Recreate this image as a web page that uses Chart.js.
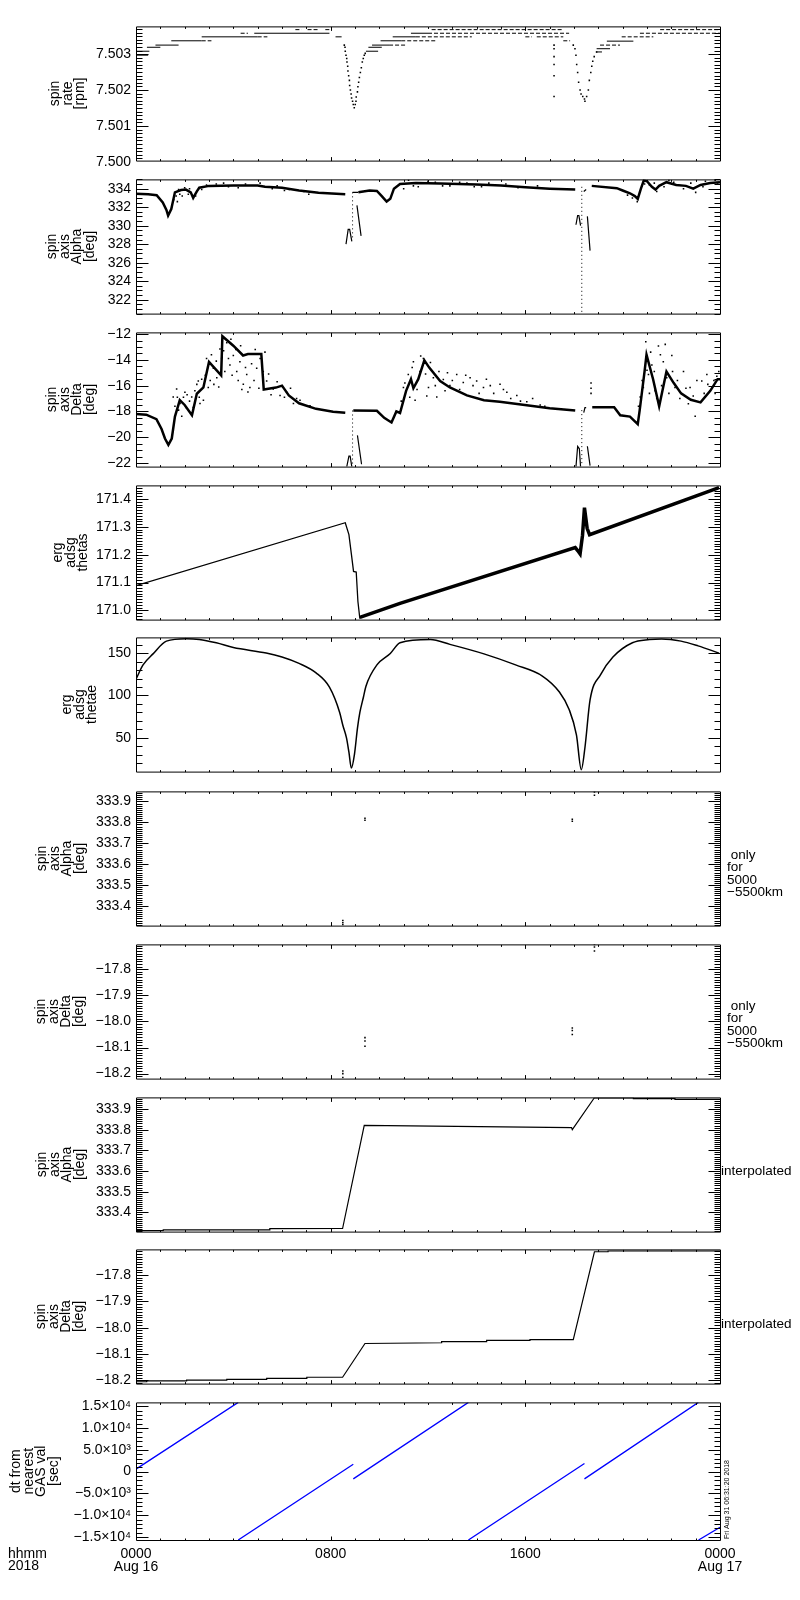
<!DOCTYPE html>
<html>
<head>
<meta charset="utf-8">
<script src="https://cdn.jsdelivr.net/npm/chart.js@4.4.1/dist/chart.umd.min.js"></script>
<style>
  html, body { margin: 0; padding: 0; background: #fff; }
  #wrap { position: relative; width: 800px; height: 1600px; }
  #wrap canvas { position: absolute; left: 0; }
</style>
</head>
<body>
<div id="wrap"></div>
<script>
// time axis: hours after 2018-08-16 0000 UT
const hourTicks = [0, 8, 16, 24]
const hourLabels = [["0000", "Aug 16"], ["0800"], ["1600"], ["0000", "Aug 17"]]

// panel 1: spin rate [rpm], quantised rows [from, to, value]
const rateSolid = [[0, 0.55, 7.50308], [0, 0.5, 7.50297], [0.45, 1.0, 7.50319], [0.8, 1.75, 7.50325],
  [1.45, 2.7, 7.50337], [2.7, 5.0, 7.50348], [4.86, 7.95, 7.50358], [8.2, 8.45, 7.50348],
  [9.45, 9.95, 7.50308], [9.55, 10.1, 7.50319], [9.7, 10.4, 7.50325], [10.05, 10.9, 7.50337],
  [10.55, 11.5, 7.50348], [11.3, 12.0, 7.50358], [18.9, 19.15, 7.50306], [18.93, 19.48, 7.50315],
  [19.35, 20.44, 7.50336]]
const rateDashed = [[2.7, 3.1, 7.50337], [5.0, 5.4, 7.50348], [4.3, 4.6, 7.50358], [6.55, 6.8, 7.50368],
  [7.05, 7.53, 7.50368], [7.78, 8.0, 7.50368], [10.4, 11.1, 7.50325], [10.9, 12.3, 7.50337],
  [11.5, 13.8, 7.50348], [12.0, 17.8, 7.50358], [12.15, 17.56, 7.50368], [16.0, 16.27, 7.50348],
  [16.47, 17.56, 7.50348], [17.56, 17.84, 7.50337], [19.07, 19.89, 7.50325], [19.96, 21.26, 7.50348],
  [20.71, 24, 7.50358], [21.54, 24, 7.50368]]
const rateDip1 = [[8.56, 7.50325], [8.59, 7.50319], [8.6, 7.50308], [8.63, 7.50297], [8.66, 7.50288],
  [8.67, 7.50278], [8.7, 7.50266], [8.71, 7.50253], [8.74, 7.5024], [8.77, 7.50227], [8.78, 7.50213],
  [8.81, 7.502], [8.84, 7.50189], [8.86, 7.50178], [8.9, 7.50169], [8.93, 7.5016], [8.97, 7.50151],
  [9.01, 7.5016], [9.04, 7.50169], [9.05, 7.50181], [9.1, 7.50195], [9.12, 7.50209], [9.15, 7.50222],
  [9.18, 7.50235], [9.22, 7.50249], [9.26, 7.50262], [9.3, 7.50278], [9.34, 7.50288], [9.38, 7.50297],
  [9.42, 7.50302]]
const rateStray = [[17.18, 7.50325], [17.18, 7.50315], [17.18, 7.50293], [17.18, 7.50271],
  [17.18, 7.5024], [17.18, 7.50182]]
const rateDip2 = [[17.97, 7.50325], [18.04, 7.50315], [18.08, 7.50297], [18.11, 7.50271], [18.15, 7.50249],
  [18.19, 7.50222], [18.25, 7.502], [18.29, 7.50189], [18.36, 7.50182], [18.43, 7.50175], [18.45, 7.50169],
  [18.52, 7.50182], [18.59, 7.502], [18.63, 7.50227], [18.69, 7.50249], [18.73, 7.50266], [18.77, 7.5028],
  [18.83, 7.50293], [18.93, 7.50306]]

// panel 2: spin axis alpha [deg]
const alphaMain = [[0, 333.45], [0.5, 333.4], [0.85, 333.3], [1.1, 332.5], [1.25, 331.7], [1.32, 331.1],
  [1.45, 331.8], [1.6, 333.6], [1.85, 333.85], [2.05, 333.9], [2.25, 333.6], [2.35, 333.0], [2.5, 333.7],
  [2.6, 334.1], [3.0, 334.3], [4.0, 334.35], [5.0, 334.35], [5.3, 334.2], [6.0, 334.1], [6.7, 333.8],
  [7.5, 333.55], [8.6, 333.4], null,
  [9.14, 333.6], [9.6, 333.8], [9.9, 333.75], [10.1, 333.2], [10.3, 332.6], [10.45, 332.9], [10.6, 334.0],
  [10.85, 334.5], [11.5, 334.6], [12.5, 334.55], [14.0, 334.45], [15.0, 334.35], [16.0, 334.15],
  [17.0, 334.0], [18.05, 333.9], null,
  [18.73, 334.3], [19.76, 334.05], [20.0, 333.8], [20.3, 333.5], [20.5, 333.2], [20.62, 332.9],
  [20.75, 334.0], [20.87, 334.9], [21.0, 334.8], [21.2, 334.2], [21.35, 333.9], [21.5, 334.3],
  [21.8, 334.7], [22.2, 334.4], [22.6, 334.3], [22.9, 334.0], [23.2, 334.4], [23.6, 334.6], [24, 334.7]]
const alphaGlitch = [[8.63, 328.0], [8.72, 329.6], [8.78, 329.6], [8.87, 328.3], null,
  [8.9, 333.6], [9.14, 333.6], null, [9.08, 332.2], [9.25, 328.9], null,
  [18.08, 330.1], [18.15, 331.1], [18.2, 331.1], [18.27, 330.0], null,
  [18.55, 331.0], [18.66, 327.3], null, [18.4, 333.7], [18.5, 333.9]]
const alphaDotted = [[8.9, 333.6], [8.9, 328.6], null, [18.32, 334.2], [18.32, 320.5]]
const alphaScatter = [[1.55, 332.8], [1.65, 333.2], [1.7, 332.6], [1.8, 333.4], [1.9, 333.2], [2.0, 334.1],
  [2.15, 333.4], [2.3, 333.3], [2.45, 333.2], [2.7, 333.9], [2.9, 334.4], [3.3, 334.5], [3.8, 334.2],
  [4.5, 334.5], [5.6, 334.0], [5.8, 334.3], [6.3, 333.9], [6.9, 333.7], [11.0, 334.0], [11.2, 334.9],
  [11.6, 334.2], [12.0, 334.8], [12.6, 334.3], [13.3, 334.7], [13.9, 334.2], [14.5, 334.6], [20.4, 333.0],
  [20.6, 332.6], [20.8, 334.3], [21.1, 334.4], [21.4, 333.7], [21.9, 334.9], [22.5, 334.0], [23.0, 333.6],
  [23.4, 334.8], [23.8, 334.9], [1.75, 333.9], [2.2, 334.0], [3.6, 334.6], [4.2, 334.1], [5.1, 334.6],
  [6.1, 333.8], [7.1, 333.4], [11.4, 334.3], [12.3, 334.7], [12.9, 334.3], [13.6, 334.6], [14.2, 334.2],
  [15.2, 334.5], [15.7, 334.1], [16.5, 334.3], [20.2, 333.3], [20.9, 334.5], [21.3, 334.6], [21.7, 334.2],
  [22.1, 334.7], [22.8, 334.6], [23.3, 334.2], [23.9, 334.5]]

// panel 3: spin axis delta [deg]
const deltaMain = [[0, -18.2], [0.42, -18.25], [0.84, -18.6], [1.05, -19.36], [1.19, -20.1], [1.33, -20.6],
  [1.47, -20.1], [1.6, -18.4], [1.8, -17.13], [2.0, -17.5], [2.3, -18.3], [2.5, -16.63], [2.77, -16.14],
  [3.0, -14.16], [3.5, -15.2], [3.55, -12.17], [4.0, -12.9], [4.4, -13.66], [4.6, -13.55], [5.15, -13.55],
  [5.25, -16.3], [5.75, -16.15], [6.0, -16.0], [6.28, -16.76], [6.7, -17.37], [7.4, -17.8], [8.1, -18.02],
  [8.6, -18.1], null,
  [8.93, -17.93], [9.9, -17.95], [10.2, -18.5], [10.5, -18.86], [10.7, -18.0], [10.85, -18.12],
  [11.1, -16.4], [11.3, -15.5], [11.4, -16.2], [11.6, -15.5], [11.85, -14.03], [12.05, -14.6],
  [12.5, -15.64], [12.9, -16.14], [13.6, -16.76], [14.3, -17.13], [14.95, -17.25], [15.98, -17.5],
  [17.0, -17.75], [18.05, -17.93], null,
  [18.75, -17.67], [19.65, -17.67], [19.9, -18.3], [20.3, -18.4], [20.62, -18.99], [20.7, -17.9],
  [20.9, -14.9], [20.98, -13.6], [21.25, -15.5], [21.5, -17.6], [21.8, -14.9], [22.1, -15.8],
  [22.4, -16.6], [22.8, -17.1], [23.2, -17.3], [23.6, -16.4], [23.9, -15.5], [24, -15.5]]
const deltaGlitch = [[8.66, -22.3], [8.75, -21.47], [8.8, -21.47], [8.87, -22.3], null,
  [9.1, -19.86], [9.27, -22.1], null,
  [18.08, -22.3], [18.15, -20.72], [18.22, -20.9], [18.27, -22.3], null,
  [18.55, -20.7], [18.66, -22.2], null, [18.4, -18.1], [18.45, -17.7], [18.5, -17.7]]
const deltaDotted = [[8.9, -17.93], [8.9, -22.2], null, [18.32, -17.9], [18.32, -22.2]]
const deltaCloud = [[1.53, -16.88], [1.67, -16.26], [1.81, -17.38], [1.88, -18.37], [2.01, -16.51],
  [2.08, -17.75], [2.29, -16.88], [2.42, -16.39], [2.56, -15.64], [2.63, -17.38], [2.77, -17.13],
  [2.9, -13.9], [2.97, -16.14], [3.18, -14.65], [3.32, -15.39], [3.45, -13.16], [3.52, -13.9],
  [3.73, -12.67], [3.86, -14.4], [4.0, -13.66], [4.14, -14.9], [4.27, -14.15], [4.41, -15.89],
  [4.55, -15.14], [4.68, -16.14], [4.96, -14.65], [5.1, -13.9], [5.23, -14.9], [5.37, -15.64],
  [5.64, -16.26], [5.92, -16.76], [6.19, -16.51], [6.47, -17.38], [6.74, -17.13], [7.15, -17.57],
  [1.6, -17.6], [1.7, -16.9], [1.75, -17.9], [1.95, -16.9], [2.1, -16.7], [2.2, -17.2], [2.35, -17.7],
  [2.5, -15.9], [2.6, -16.9], [2.7, -15.5], [2.85, -15.2], [2.95, -14.6], [3.05, -15.6], [3.1, -13.6],
  [3.2, -15.9], [3.3, -14.1], [3.4, -16.1], [3.6, -13.3], [3.65, -14.9], [3.8, -13.9], [3.9, -12.4],
  [3.95, -15.2], [4.1, -13.2], [4.2, -15.6], [4.3, -12.9], [4.35, -16.3], [4.5, -14.6], [4.6, -16.5],
  [4.75, -14.3], [4.85, -15.6], [4.9, -13.2], [5.05, -16.2], [5.3, -13.4], [5.45, -15.1], [5.55, -16.7],
  [5.8, -15.7], [6.1, -16.9], [6.35, -16.2], [6.6, -17.0], [6.9, -17.5],
  [10.99, -16.14], [11.19, -15.14], [11.4, -14.15], [11.47, -17.13], [11.67, -14.9], [11.81, -13.9],
  [12.02, -16.14], [12.22, -15.39], [12.36, -16.88], [12.63, -15.52], [12.9, -16.0], [13.18, -15.14],
  [13.45, -15.76], [13.73, -15.39], [14.0, -15.64], [14.28, -16.14], [14.56, -16.0], [14.96, -15.89],
  [15.24, -16.51], [15.65, -16.76], [16.06, -17.25], [16.61, -17.5],
  [10.9, -17.2], [11.05, -15.8], [11.25, -16.9], [11.35, -14.6], [11.55, -16.3], [11.7, -13.7],
  [11.9, -15.1], [11.95, -16.8], [12.1, -14.2], [12.3, -16.0], [12.45, -14.9], [12.7, -16.4],
  [12.8, -15.0], [13.0, -15.6], [13.3, -16.3], [13.55, -15.2], [13.85, -16.0], [14.1, -16.6],
  [14.4, -15.5], [14.7, -16.6], [15.1, -16.3], [15.4, -17.0], [15.8, -17.2], [16.3, -17.0], [16.8, -17.6],
  [18.7, -15.8], [18.7, -16.2], [18.7, -16.6],
  [20.72, -16.88], [20.85, -16.14], [20.99, -13.66], [21.06, -15.14], [21.2, -14.4], [21.33, -16.39],
  [21.47, -12.92], [21.67, -14.15], [21.81, -15.39], [22.02, -13.66], [22.15, -16.14], [22.5, -14.9],
  [22.77, -16.14], [22.98, -18.37], [23.25, -15.64], [23.46, -15.14], [23.67, -16.14], [23.87, -15.27],
  [20.65, -17.6], [20.8, -15.6], [20.95, -12.6], [21.0, -14.8], [21.1, -16.6], [21.15, -13.4],
  [21.3, -14.9], [21.4, -17.0], [21.55, -13.6], [21.6, -16.0], [21.75, -12.8], [21.9, -16.6],
  [22.05, -14.9], [22.25, -15.6], [22.35, -17.0], [22.6, -16.2], [22.7, -17.4], [22.9, -16.8],
  [23.05, -15.6], [23.35, -16.6], [23.5, -15.9], [23.75, -15.6], [23.95, -14.9], [23.8, -16.6]]

// panel 4: erg adsg thetas
const thetasThin = [[0, 171.089], [8.6, 171.315], [8.75, 171.272], [8.85, 171.203], [8.94, 171.14],
  [9.05, 171.138], [9.12, 171.032], [9.2, 170.97]]
const thetasBand = [[9.2, 170.975], [10.85, 171.025], [18.05, 171.226], [18.15, 171.215], [18.25, 171.203],
  [18.35, 171.27], [18.43, 171.369], [18.54, 171.295], [18.64, 171.272], [23.96, 171.441]]

// panel 5: erg adsg thetae
const thetae = [[0, 119.2], [0.29, 136], [0.7, 149], [1.25, 164], [2.07, 166.9], [2.6, 166], [3.3, 162],
  [4.0, 156.5], [5.35, 150], [6.0, 145.3], [6.7, 137.8], [7.4, 126.6], [7.95, 109.8], [8.37, 80],
  [8.5, 64.9], [8.65, 50], [8.75, 33.2], [8.85, 14.5], [8.98, 31.3], [9.1, 61.2], [9.2, 80], [9.35, 98.5],
  [9.45, 111], [9.9, 136], [10.45, 149.4],
  [10.85, 162.1], [12.1, 165.8], [12.9, 160.2], [14.3, 149], [15.6, 136], [16.7, 122.9], [17.4, 104.1],
  [17.8, 83.6], [18.1, 53.7], [18.3, 12.7], [18.45, 38.8], [18.66, 94.8], [19.1, 124.8], [19.6, 145.3],
  [20.4, 162.1], [21.1, 165.8], [21.6, 166.6], [22.4, 164], [23.1, 158.4], [23.96, 149.9]]

// panels 6-7: values only for 5000-5500 km
const alphaOnly = [[8.5, 333.31], [8.5, 333.32], [8.5, 333.33], [9.41, 333.81], [9.41, 333.82],
  [17.93, 333.805], [17.93, 333.815], [18.84, 333.93], [18.84, 333.945]]
const deltaOnly = [[8.5, -18.19], [8.5, -18.2], [8.5, -18.215], [9.41, -18.062], [9.41, -18.075],
  [9.41, -18.095], [17.93, -18.025], [17.93, -18.035], [17.93, -18.05], [18.84, -17.705],
  [18.84, -17.715], [18.84, -17.73]]

// panels 8-9: interpolated
const alphaInterp = [[0, 333.312], [1.12, 333.312], [1.12, 333.315], [5.5, 333.315], [5.5, 333.321],
  [8.49, 333.322], [9.38, 333.821], [17.9, 333.81], [17.93, 333.8], [18.83, 333.953], [20.44, 333.953],
  [20.44, 333.95], [22.15, 333.95], [22.15, 333.946], [24, 333.946]]
const deltaInterp = [[0, -18.205], [0.44, -18.205], [0.44, -18.202], [2.08, -18.202], [2.08, -18.199],
  [3.73, -18.199], [3.73, -18.196], [5.37, -18.196], [5.37, -18.192], [7.02, -18.192], [7.02, -18.188],
  [8.49, -18.188], [9.41, -18.06], [12.56, -18.057], [12.56, -18.053], [14.41, -18.053], [14.41, -18.048],
  [16.19, -18.048], [16.19, -18.045], [17.97, -18.045], [18.84, -17.712], [19.4, -17.712],
  [19.4, -17.709], [24, -17.709]]

// panel 10: dt from nearest GAS value [sec]
const dtLines = [[0, 586], [4.2, 15900], null, [4.2, -15700], [8.93, 1710], null,
  [8.93, -1670], [13.66, 15900], null, [13.66, -15700], [18.43, 1870], null,
  [18.43, -1670], [23.11, 15900], null, [23.12, -15700], [24, -12770]]
const dtTicks = [-15000, -10000, -5000, 0, 5000, 10000, 15000]
const dtLabels = ["−1.5×10⁴", "−1.0×10⁴", "−5.0×10³", "0", "5.0×10³", "1.0×10⁴", "1.5×10⁴"]

// ---------------------------------------------------------------
const FONT = "'Liberation Sans', Arial, sans-serif"
Chart.defaults.font.family = FONT
Chart.defaults.color = "#000"
const TOPS = [23, 176, 329, 482, 634, 788, 941, 1094, 1246, 1399]
const PH = 141

function path(arr) {
  const out = []
  let lastX = 0
  arr.forEach(p => {
    if (p) { out.push({ x: p[0], y: p[1] }); lastX = p[0] }
    else out.push({ x: lastX, y: null })
  })
  return out
}
function rows(list) {
  const a = []
  list.forEach(([t0, t1, v]) => a.push([t0, v], [t1, v], null))
  return a
}
function line(arr, w, color, dash) {
  return { data: path(arr), borderColor: color || "#000", borderWidth: w, borderDash: dash || [],
    pointRadius: 0, spanGaps: false, tension: 0, fill: false }
}
function dots(arr, r) {
  return { data: path(arr), showLine: false, pointRadius: r, pointStyle: "rect", pointBorderWidth: 0,
    pointBackgroundColor: "#000", borderColor: "#000" }
}
const range = (a, b, s) => { const r = []; for (let v = a; v <= b + 1e-9; v += s) r.push(+v.toFixed(6)); return r }
const minus = s => s.replace("-", "−")

const onlyText = [" only", "for", "5000", "−5500km"]
const smoothThetae = Object.assign(line(thetae, 1.5), { cubicInterpolationMode: "monotone" })

const panels = [
  { title: ["spin", "rate", "[rpm]"], pad: 49, min: 7.50004, max: 7.50377, minor: 0.0001,
    ticks: [7.500, 7.501, 7.502, 7.503], fmt: v => v.toFixed(3),
    sets: [line(rows(rateSolid), 1), line(rows(rateDashed), 1, null, [4, 2]),
      dots(rateDip1, 1.1), dots(rateDip2, 1.1), dots(rateStray, 1.1)] },
  { title: ["spin", "axis", "Alpha", "[deg]"], pad: 46, min: 320.5, max: 335.0, minor: 0.5,
    ticks: range(322, 334, 2), fmt: v => String(v),
    sets: [line(alphaMain, 2.5), line(alphaGlitch, 1.2), line(alphaDotted, 1, null, [1, 3]), dots(alphaScatter, 1.1)] },
  { title: ["spin", "axis", "Delta", "[deg]"], pad: 46, min: -22.28, max: -11.87, minor: 0.5,
    ticks: range(-22, -12, 2), fmt: v => minus(String(v)),
    sets: [line(deltaMain, 2.5), line(deltaGlitch, 1.2), line(deltaDotted, 1, null, [1, 3]), dots(deltaCloud, 1.1)] },
  { title: ["erg", "adsg", "thetas"], pad: 52, min: 170.967, max: 171.449, minor: 0.01,
    ticks: range(171.0, 171.4, 0.1), fmt: v => v.toFixed(1),
    sets: [line(thetasThin, 1.3), line(thetasBand, 3.5)] },
  { title: ["erg", "adsg", "thetae"], pad: 61, min: 10.4, max: 168.4, minor: 10,
    ticks: [50, 100, 150], fmt: v => String(v),
    sets: [smoothThetae] },
  { title: ["spin", "axis", "Alpha", "[deg]"], pad: 36, min: 333.306, max: 333.948, minor: 0.01,
    ticks: range(333.4, 333.9, 0.1), fmt: v => v.toFixed(1),
    sets: [dots(alphaOnly, 1.1)], side: onlyText, sideY: 67 },
  { title: ["spin", "axis", "Delta", "[deg]"], pad: 35, min: -18.219, max: -17.705, minor: 0.01,
    ticks: range(-18.2, -17.8, 0.1), fmt: v => minus(v.toFixed(1)),
    sets: [dots(deltaOnly, 1.1)], side: onlyText, sideY: 65 },
  { title: ["spin", "axis", "Alpha", "[deg]"], pad: 36, min: 333.307, max: 333.956, minor: 0.01,
    ticks: range(333.4, 333.9, 0.1), fmt: v => v.toFixed(1),
    sets: [line(alphaInterp, 1.2)], side: ["interpolated"], sideY: 77, sideX: 721 },
  { title: ["spin", "axis", "Delta", "[deg]"], pad: 35, min: -18.212, max: -17.703, minor: 0.01,
    ticks: range(-18.2, -17.8, 0.1), fmt: v => minus(v.toFixed(1)),
    sets: [line(deltaInterp, 1.2)], side: ["interpolated"], sideY: 78, sideX: 721 },
  { title: ["dt from", "nearest", "GAS val", "[sec]"], pad: 10, min: -15700, max: 15900, minor: 1000,
    ticks: dtTicks, fmt: (v, i) => dtLabels[i],
    sets: [line(dtLines, 1.3, "#0000ff")] }
]

// frame with inward IDL-style ticks on all four sides
const framePlugin = {
  id: "frame",
  afterDatasetsDraw(chart, args, o) {
    const { ctx, chartArea: a, scales: { x, y } } = chart
    const L = a.left + 0.5, R = a.right + 0.5, T = a.top + 0.5, B = a.bottom + 0.5
    ctx.save()
    ctx.strokeStyle = "#000"
    ctx.lineWidth = 1
    ctx.beginPath()
    ctx.rect(L, T, R - L, B - T)
    const yTick = (v, len) => {
      if (v < y.min || v > y.max) return
      const py = Math.round(y.getPixelForValue(v)) + 0.5
      ctx.moveTo(L, py); ctx.lineTo(L + len, py)
      ctx.moveTo(R, py); ctx.lineTo(R - len, py)
    }
    const n0 = Math.ceil(y.min / o.minor - 1e-6), n1 = Math.floor(y.max / o.minor + 1e-6)
    for (let n = n0; n <= n1; n++) yTick(n * o.minor, 6)
    y.ticks.forEach(t => yTick(t.value, 12))
    for (let h = 1; h < 24; h++) {
      const px = Math.round(x.getPixelForValue(h)) + 0.5, len = h % 8 ? 2 : 4
      ctx.moveTo(px, T); ctx.lineTo(px, T + len)
      ctx.moveTo(px, B); ctx.lineTo(px, B - len)
    }
    ctx.stroke()
    ctx.restore()
  }
}

// free text: right-hand remarks, bottom-left labels, plot stamp
const notesPlugin = {
  id: "notes",
  afterDraw(chart, args, o) {
    const ctx = chart.ctx
    ctx.save()
    ctx.fillStyle = "#000"
    ctx.textBaseline = "middle"
    ctx.textAlign = "left"
    ;(o.items || []).forEach(n => {
      ctx.font = (n.size || 14) + "px " + FONT
      ctx.save()
      ctx.translate(n.x, n.y)
      if (n.rot) ctx.rotate(n.rot)
      ctx.fillText(n.text, 0, 0)
      ctx.restore()
    })
    ctx.restore()
  }
}

const wrap = document.getElementById("wrap")
panels.forEach((p, i) => {
  const last = i === panels.length - 1
  const cv = document.createElement("canvas")
  const h = PH + (last ? 70 : 20)
  cv.width = 800
  cv.height = h
  cv.style.top = (TOPS[i] - 10) + "px"
  wrap.appendChild(cv)

  const items = []
  if (p.side) p.side.forEach((s, k) => items.push({ text: s, x: p.sideX || 727, y: 10 + p.sideY + k * 12.5, size: 13.5 }))
  if (last) {
    items.push({ text: "hhmm", x: 8, y: 10 + PH + 14 })
    items.push({ text: "2018", x: 8, y: 10 + PH + 26 })
    items.push({ text: "Fri Aug 31 06:31:20 2018", x: 727, y: 10 + PH - 1, size: 7, rot: -Math.PI / 2 })
  }

  new Chart(cv, {
    type: "line",
    data: { datasets: p.sets },
    plugins: [framePlugin, notesPlugin],
    options: {
      responsive: false,
      animation: false,
      events: [],
      layout: { padding: { left: 0, right: 80, top: 10, bottom: last ? 0 : 10 } },
      plugins: {
        legend: { display: false },
        tooltip: { enabled: false },
        frame: { minor: p.minor },
        notes: { items }
      },
      scales: {
        x: {
          type: "linear", min: 0, max: 24,
          afterBuildTicks: s => { s.ticks = hourTicks.map(v => ({ value: v })) },
          afterFit: s => { s.height = last ? 60 : 0; s.paddingLeft = 0; s.paddingRight = 0 },
          grid: { display: false, drawTicks: false },
          border: { display: false },
          ticks: { display: last, padding: 8, maxRotation: 0, autoSkip: false, color: "#000",
            font: { size: 14, lineHeight: 0.9 }, callback: (v, k) => hourLabels[k] }
        },
        y: {
          type: "linear", min: p.min, max: p.max,
          afterBuildTicks: s => { s.ticks = p.ticks.map(v => ({ value: v })) },
          afterFit: s => { s.width = 136 },
          grid: { display: false, drawTicks: false },
          border: { display: false },
          ticks: { padding: 5, autoSkip: false, color: "#000", font: { size: 14 },
            callback: (v, k) => p.fmt(v, k) },
          title: { display: true, text: p.title, color: "#000",
            font: { size: 14, lineHeight: 0.9 }, padding: { top: p.pad, bottom: 0 } }
        }
      }
    }
  })
})
</script>
</body>
</html>
